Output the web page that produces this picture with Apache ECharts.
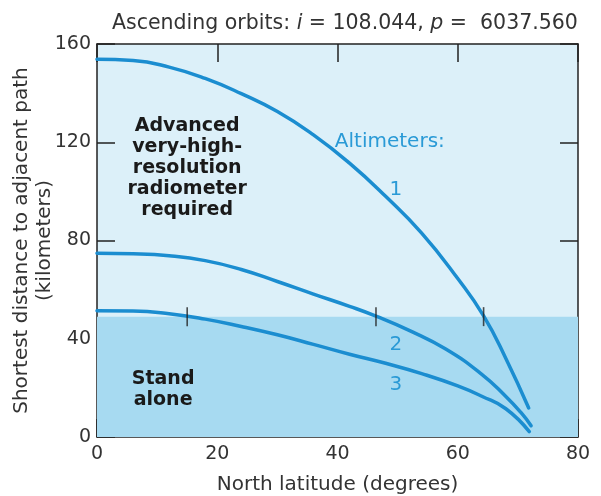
<!DOCTYPE html>
<html>
<head>
<meta charset="utf-8">
<script src="https://cdn.jsdelivr.net/npm/echarts@6/dist/echarts.min.js"></script>
<style>
  html, body { margin: 0; padding: 0; background: #fff; }
  #chart { width: 601px; height: 496px; }
</style>
</head>
<body>
<div id="chart"></div>
<script>
// latitude (deg) / shortest distance (km)
const lat1 = [0, 6, 12, 18, 24, 30, 36, 42, 48, 54, 60, 64.3, 68, 71.8]
const dist1 = [153.8, 153.3, 150.6, 146, 139.8, 132.5, 123, 111.5, 98, 83, 64.5, 49.3, 32, 11.8]
const lat2 = [0, 6, 12, 18, 24, 30, 36, 42, 46.4, 52, 58, 64, 68, 70.5, 72.2]
const dist2 = [74.8, 74.6, 73.8, 71.8, 68.2, 63.3, 58.2, 53.2, 49.2, 43.3, 35.8, 25.5, 16.5, 10, 4.6]
const lat3 = [0, 6, 12, 18, 24, 30, 36, 42, 48, 54, 60, 64, 68, 71.9]
const dist3 = [51.4, 51.3, 50.2, 48, 45, 41.6, 37.7, 33.7, 30, 25.8, 20.8, 16.6, 11.5, 2.2]
// threshold between "stand alone" and AVHRR-required zones
const threshold = 49
const crossLat = [15, 46.4, 64.3]
const xTicks = [0, 80, 20]   // min, max, interval
const yTicks = [0, 160, 40]

const curveColor = '#1b8dd0'
const font = "'DejaVu Sans', sans-serif"

const zip = (xs, ys) => xs.map((x, i) => [x, ys[i]])

let chart = echarts.init(document.getElementById('chart'))

const axisCommon = {
  axisLine: {show: true, onZero: false, lineStyle: {color: '#222', width: 1.5}},
  axisTick: {show: true, inside: true, length: 18, lineStyle: {color: '#222', width: 1.5}},
  splitLine: {show: false},
}

const curve = (data) => ({
  type: 'line',
  data: data,
  xAxisIndex: 0,
  yAxisIndex: 0,
  smooth: 0.5,
  symbol: 'none',
  z: 3,
  lineStyle: {color: curveColor, width: 3.5, cap: 'round'},
})

let option = {
  animation: false,
  title: {
    text: 'Ascending orbits: {it|i} = 108.044, {it|p} =  6037.560',
    left: 107,
    top: 8,
    textStyle: {
      fontFamily: font, fontSize: 20.5, fontWeight: 'normal', color: '#333',
      rich: {it: {fontFamily: font, fontSize: 20.5, fontStyle: 'italic', color: '#333'}}
    }
  },
  grid: {
    left: 97, right: 23, top: 44, bottom: 59,
    outerBoundsMode: 'none',
    show: true, backgroundColor: '#dcf0f9', borderWidth: 0
  },
  xAxis: [
    Object.assign({}, axisCommon, {
      type: 'value', min: xTicks[0], max: xTicks[1], interval: xTicks[2],
      position: 'bottom',
      name: 'North latitude (degrees)', nameLocation: 'middle', nameGap: 38,
      nameMoveOverlap: false,
      nameTextStyle: {fontFamily: font, fontSize: 20, color: '#333'},
      axisLabel: {fontFamily: font, fontSize: 19, color: '#333', margin: 8},
    }),
    Object.assign({}, axisCommon, {
      type: 'value', min: xTicks[0], max: xTicks[1], interval: xTicks[2],
      position: 'top', axisLabel: {show: false},
    }),
  ],
  yAxis: [
    Object.assign({}, axisCommon, {
      type: 'value', min: yTicks[0], max: yTicks[1], interval: yTicks[2],
      position: 'left',
      name: 'Shortest distance to adjacent path\n(kilometers)', nameLocation: 'middle', nameGap: 41,
      nameMoveOverlap: false,
      nameTextStyle: {fontFamily: font, fontSize: 20, color: '#333', lineHeight: 23},
      axisLabel: {fontFamily: font, fontSize: 19, color: '#333', margin: 6},
    }),
    Object.assign({}, axisCommon, {
      type: 'value', min: yTicks[0], max: yTicks[1], interval: yTicks[2],
      position: 'right', axisLabel: {show: false},
    }),
  ],
  series: [
    {
      type: 'line', data: [], z: 1,
      markArea: {
        silent: true,
        itemStyle: {color: '#a7daf1'},
        data: [[{yAxis: 0}, {yAxis: threshold}]]
      }
    },
    curve(zip(lat1, dist1)),
    curve(zip(lat2, dist2)),
    curve(zip(lat3, dist3)),
    {
      type: 'scatter',
      data: crossLat.map(v => [v, threshold]),
      symbol: 'rect',
      symbolSize: [1.6, 19],
      z: 4,
      itemStyle: {color: '#222'},
    },
  ],
}
chart.setOption(option)

// text annotations placed in data coordinates
const notes = [
  {at: [15, 109.5], text: 'Advanced\nvery-high-\nresolution\nradiometer\nrequired', color: '#1a1a1a', bold: true, size: 19},
  {at: [11, 19.5], text: 'Stand\nalone', color: '#1a1a1a', bold: true, size: 19},
  {at: [48.7, 120], text: 'Altimeters:', color: '#2a9ad6', size: 20},
  {at: [49.7, 100.6], text: '1', color: '#2a9ad6', size: 20},
  {at: [49.7, 37.5], text: '2', color: '#2a9ad6', size: 20},
  {at: [49.7, 21.2], text: '3', color: '#2a9ad6', size: 20},
]
chart.setOption({
  graphic: notes.map(n => {
    const p = chart.convertToPixel({gridIndex: 0}, n.at)
    return {
      type: 'text', x: p[0], y: p[1], z: 10,
      style: {
        text: n.text, fill: n.color, align: 'center', verticalAlign: 'middle',
        font: (n.bold ? 'bold ' : '') + n.size + 'px ' + font, lineHeight: 21
      }
    }
  })
})
</script>
</body>
</html>
